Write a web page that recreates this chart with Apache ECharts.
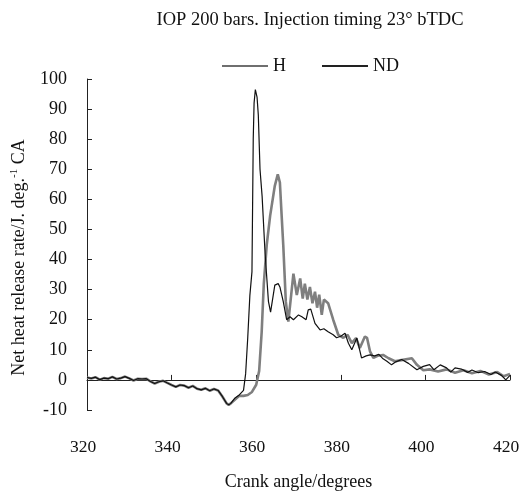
<!DOCTYPE html>
<html>
<head>
<meta charset="utf-8">
<script src="https://cdn.jsdelivr.net/npm/echarts@6/dist/echarts.min.js"></script>
<style>
  html, body { margin: 0; padding: 0; background: #fff; }
  #chart { width: 521px; height: 492px; }
</style>
</head>
<body>
<div id="chart"></div>
<script>
// crank angles before ignition (shared by both runs)
var preAngle = [320, 321, 322, 323, 324, 325, 326, 327, 328, 329, 330, 331, 332, 333, 334, 335, 336, 337, 338, 339,
  340, 341, 342, 343, 344, 345, 346, 347, 348, 349, 350, 351, 352, 353, 353.5, 354];
var preRate = [0.8, 0.5, 0.9, 0.1, 0.6, 0.4, 1.0, 0.3, 0.6, 1.1, 0.5, -0.2, 0.4, 0.3, 0.4, -0.5, -1.2, -0.6, -0.3, -1.0,
  -1.7, -2.3, -1.7, -1.9, -2.6, -2.0, -2.9, -3.3, -2.8, -3.6, -3.0, -3.5, -5.5, -7.8, -8.3, -7.8];

// ND after ignition
var ndAngle = [355, 356, 357, 357.5, 358, 358.5, 359, 359.3, 359.5, 359.8, 360.2, 360.5, 360.9, 361.4, 362.1, 362.9,
  363.4, 364.4, 365.2, 365.6, 366.4, 367.2, 368, 368.8, 370, 370.8, 371.8, 372.3, 372.9, 373.9, 375.1, 376, 377,
  378.2, 379, 380, 381, 381.8, 382.6, 383.8, 384.9, 386, 386.9, 388, 389, 390, 390.9, 392, 393, 394.4, 396, 398,
  399.5, 401, 402, 403.5, 405, 406, 407, 408.5, 410, 411, 412.5, 414, 415.5, 416.5, 418, 419, 420];
var ndRate = [-6, -5, -3.5, 2, 14, 28, 36, 80, 92, 96.5, 94, 88, 70, 61, 42, 26,
  22.5, 31.5, 32, 30.9, 26, 20, 21, 20, 21.6, 21, 20, 23.3, 23.5, 18.8, 16.6, 17, 16,
  15, 14, 14.5, 15.5, 12.2, 10, 13.9, 7.3, 8, 8.3, 8, 8.5, 7, 6.2, 5, 6, 6.8, 5.5, 3.4,
  4.5, 5.1, 3.4, 5, 4, 2.6, 4, 3.6, 2.5, 3.3, 2.4, 2.8, 1.8, 2.6, 1.5, 0, 1.5];

// H after ignition
var hAngle = [355, 356, 357, 358, 359, 360, 360.7, 361.3, 361.8, 362.5, 363.3, 364.4, 365.1, 365.6, 366, 366.4, 367,
  367.6, 368.8, 369.6, 370.4, 371, 371.5, 372.1, 372.7, 373.3, 373.9, 374.4, 374.9, 375.5, 376, 377, 378.2, 379.4,
  380.6, 381.6, 382.6, 383.6, 384.5, 385.7, 386.2, 386.9, 387.7, 388.7, 390, 391.3, 392.8, 394, 396.8, 398, 399.5,
  401, 403, 405, 407, 409, 411, 413, 415, 417, 418.5, 420];
var hRate = [-6.5, -5.3, -5.3, -5.0, -4, -1.6, 3, 16, 32, 45, 54.6, 64.5, 68.3, 65.6, 55, 44.7, 26,
  19.4, 35.3, 28.2, 33.7, 27, 32, 26.7, 30.9, 25.5, 29.3, 24, 28.3, 21.6, 26.7, 25.5, 20, 15,
  14, 15, 12.2, 13.9, 10.6, 14.4, 14, 9.5, 7.3, 8, 8.3, 7.2, 6.2, 6.5, 7.2, 5, 3.2,
  3.5, 2.8, 3.5, 2.4, 3.2, 2.2, 3, 1.8, 2.6, 1.2, 2];

function pairs(a, b) {
  return a.map(function (x, i) { return [x, b[i]]; });
}

var FONT = '"Liberation Serif", "DejaVu Serif", serif';
var FS = 18;
var ndData = pairs(preAngle, preRate).concat(pairs(ndAngle, ndRate));
var hData = pairs(preAngle, preRate).concat(pairs(hAngle, hRate));

var chart = echarts.init(document.getElementById('chart'));
chart.setOption({
  animation: false,
  textStyle: { fontFamily: FONT, color: '#111' },
  title: {
    text: 'IOP 200 bars. Injection timing 23\u00b0 bTDC',
    left: 305, top: 6, textAlign: 'center',
    textStyle: { fontFamily: FONT, fontSize: 18.5, fontWeight: 'normal', color: '#111' }
  },
  legend: {
    left: 217, top: 52,
    itemWidth: 46, itemHeight: 2, itemGap: 36,
    icon: 'rect',
    textStyle: { fontFamily: FONT, fontSize: FS, color: '#111' },
    data: [
      { name: 'H', itemStyle: { color: '#6f6f6f' } },
      { name: 'ND', itemStyle: { color: '#222' } }
    ]
  },
  grid: { left: 87, right: 11, top: 79, bottom: 82, outerBoundsMode: 'none', containLabel: false },
  xAxis: {
    type: 'value', min: 320, max: 420, interval: 20,
    name: 'Crank angle/degrees', nameLocation: 'middle', nameGap: 63,
    nameTextStyle: { fontFamily: FONT, fontSize: FS, color: '#111' },
    axisLine: { lineStyle: { color: '#222', width: 1 } },
    axisTick: { inside: true, length: 5, lineStyle: { color: '#222' } },
    axisLabel: { margin: 28, fontFamily: FONT, fontSize: 17.5, color: '#111', padding: [0, 8, 0, 0] },
    splitLine: { show: false }
  },
  yAxis: {
    type: 'value', min: -10, max: 100, interval: 10,
    name: '{a|Net heat release rate/J. deg.}{s|-1}{a| CA}',
    nameLocation: 'middle', nameGap: 58,
    nameTextStyle: {
      fontFamily: FONT, fontSize: FS, color: '#111', padding: [0, 26, 0, 0],
      rich: {
        a: { fontFamily: FONT, fontSize: FS, color: '#111', lineHeight: 20 },
        s: { fontFamily: FONT, fontSize: 11, color: '#111', verticalAlign: 'top', lineHeight: 20 }
      }
    },
    axisLine: { show: true, lineStyle: { color: '#222', width: 1 } },
    axisTick: { show: true, inside: true, length: 5, lineStyle: { color: '#222' } },
    axisLabel: { margin: 20, fontFamily: FONT, fontSize: FS, color: '#111' },
    splitLine: { show: false }
  },
  series: [
    {
      name: 'H', type: 'line', data: hData, showSymbol: false, symbol: 'none',
      lineStyle: { color: '#7f7f7f', width: 2.6 }, itemStyle: { color: '#7f7f7f' }, z: 2
    },
    {
      name: 'ND', type: 'line', data: ndData, showSymbol: false, symbol: 'none',
      lineStyle: { color: '#111', width: 1.2 }, itemStyle: { color: '#111' }, z: 3
    }
  ]
});
</script>
</body>
</html>
